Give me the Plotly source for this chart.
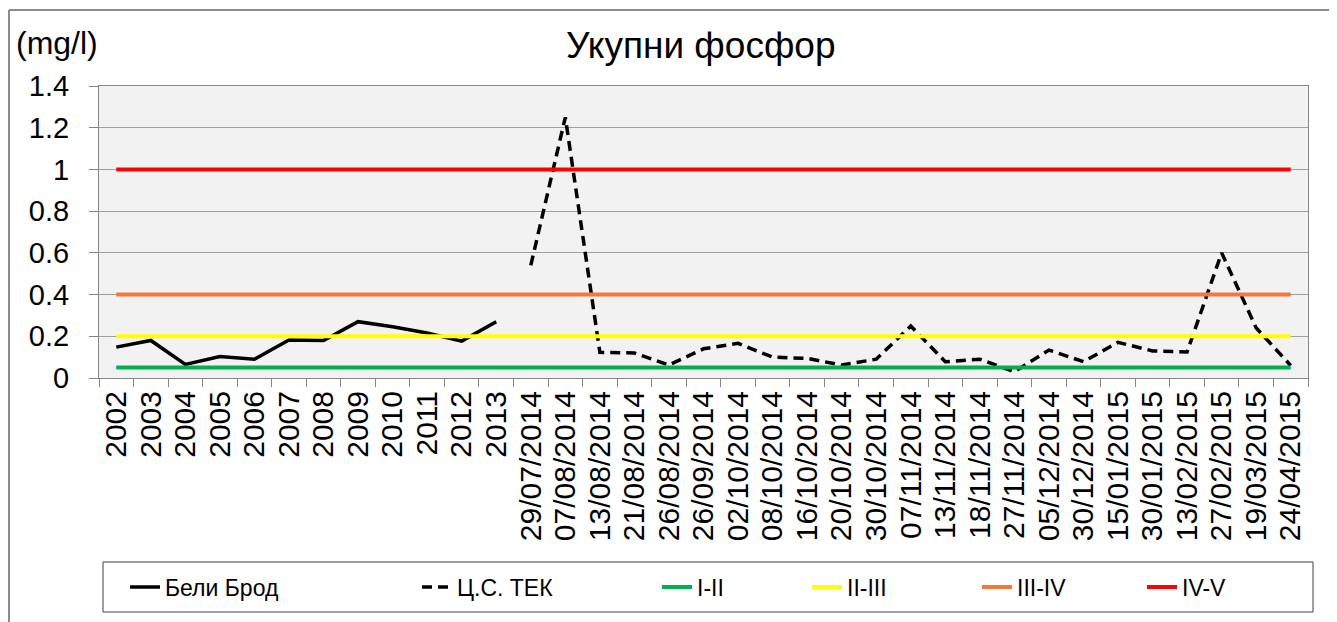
import plotly.graph_objects as go

categories = ["2002", "2003", "2004", "2005", "2006", "2007", "2008", "2009", "2010", "2011", "2012", "2013",
              "29/07/2014", "07/08/2014", "13/08/2014", "21/08/2014", "26/08/2014", "26/09/2014",
              "02/10/2014", "08/10/2014", "16/10/2014", "20/10/2014", "30/10/2014", "07/11/2014",
              "13/11/2014", "18/11/2014", "27/11/2014", "05/12/2014", "30/12/2014", "15/01/2015",
              "30/01/2015", "13/02/2015", "27/02/2015", "19/03/2015", "24/04/2015"]

beli_brod = [0.148, 0.18, 0.065, 0.103, 0.09, 0.182, 0.18, 0.27, 0.246, 0.216, 0.177, 0.27] + [None] * 23
cs_tek = [None] * 12 + [0.54, 1.25, 0.123, 0.12, 0.062, 0.14, 0.166, 0.10, 0.094, 0.062, 0.09, 0.249,
                        0.078, 0.09, 0.03, 0.134, 0.078, 0.171, 0.13, 0.125, 0.60, 0.24, 0.06]

thresholds = {"I-II": 0.05, "II-III": 0.2, "III-IV": 0.4, "IV-V": 1.0}
threshold_colors = {"I-II": "#00B050", "II-III": "#FFFF00", "III-IV": "#F5773A", "IV-V": "#FF0000"}

# screenshot geometry (page body has an 8px default margin)
OFF = 8
SW, SH = 1337, 622
W, H = SW - OFF, SH - OFF
L, R, T, B = 99, 1308, 86, 378
pw, ph = R - L, B - T


def px_x(x):
    return (x - L) / pw


def px_y(y):
    return (B - y) / ph


FONT = "Liberation Sans, Arial, sans-serif"

fig = go.Figure()

text_starts = [165, 457, 697, 847, 1017, 1182]
legend_names = ["legend", "legend2", "legend3", "legend4", "legend5", "legend6"]

fig.add_trace(go.Scatter(x=categories, y=beli_brod, mode="lines", name="Бели Брод",
                         line=dict(color="black", width=3.5), connectgaps=False,
                         legend=legend_names[0]))
fig.add_trace(go.Scatter(x=categories, y=cs_tek, mode="lines", name="Ц.С. ТЕК",
                         line=dict(color="black", width=3.5, dash="10px,6px"), connectgaps=False,
                         legend=legend_names[1]))
for i, (nm, val) in enumerate(thresholds.items()):
    fig.add_trace(go.Scatter(x=categories, y=[val] * len(categories), mode="lines", name=nm,
                             line=dict(color=threshold_colors[nm], width=4),
                             legend=legend_names[i + 2]))

legend_layout = {}
for ln, ts in zip(legend_names, text_starts):
    legend_layout[ln] = dict(x=px_x(ts - 40), xanchor="left", y=px_y(587), yanchor="middle",
                             orientation="h", bgcolor="rgba(0,0,0,0)", borderwidth=0,
                             font=dict(family=FONT, size=23, color="black"))

fig.update_layout(
    width=W, height=H,
    margin=dict(l=L - OFF, r=W - (R - OFF), t=T - OFF, b=H - (B - OFF), autoexpand=False),
    paper_bgcolor="white",
    plot_bgcolor="#F2F2F2",
    showlegend=True,
    **legend_layout,
    xaxis=dict(type="category", categoryorder="array", categoryarray=categories,
               range=[-0.5, len(categories) - 0.5],
               tickmode="array", tickvals=categories, ticktext=categories,
               tickangle=-90, tickfont=dict(family=FONT, size=30, color="black"),
               ticks="outside", tickson="boundaries", ticklen=8, tickcolor="#868686",
               showline=True, linecolor="#868686", linewidth=1, mirror=True,
               showgrid=False),
    yaxis=dict(range=[0, 1.4], dtick=0.2, tickfont=dict(family=FONT, size=29, color="black"),
               ticks="outside", ticklen=9, tickcolor="#868686", ticklabelstandoff=14,
               showline=True, linecolor="#868686", linewidth=1, mirror=True,
               showgrid=True, gridcolor="#A0A0A0", gridwidth=1, zeroline=False),
    annotations=[
        dict(text="Укупни фосфор", x=px_x(700), y=px_y(45), xref="paper", yref="paper",
             showarrow=False, font=dict(family=FONT, size=37, color="black"),
             xanchor="center", yanchor="middle"),
        dict(text="(mg/l)", x=px_x(57), y=px_y(43), xref="paper", yref="paper",
             showarrow=False, font=dict(family=FONT, size=32, color="black"),
             xanchor="center", yanchor="middle"),
    ],
    shapes=[
        dict(type="rect", xref="paper", yref="paper", x0=px_x(103), x1=px_x(1313),
             y0=px_y(612), y1=px_y(562), line=dict(color="#404040", width=1)),
        dict(type="line", xref="paper", yref="paper", x0=px_x(9), x1=px_x(1337),
             y0=px_y(10), y1=px_y(10), line=dict(color="#8C8C8C", width=2)),
        dict(type="line", xref="paper", yref="paper", x0=px_x(9), x1=px_x(9),
             y0=px_y(10), y1=px_y(622), line=dict(color="#8C8C8C", width=2)),
    ],
)

fig.write_html("out.html")
